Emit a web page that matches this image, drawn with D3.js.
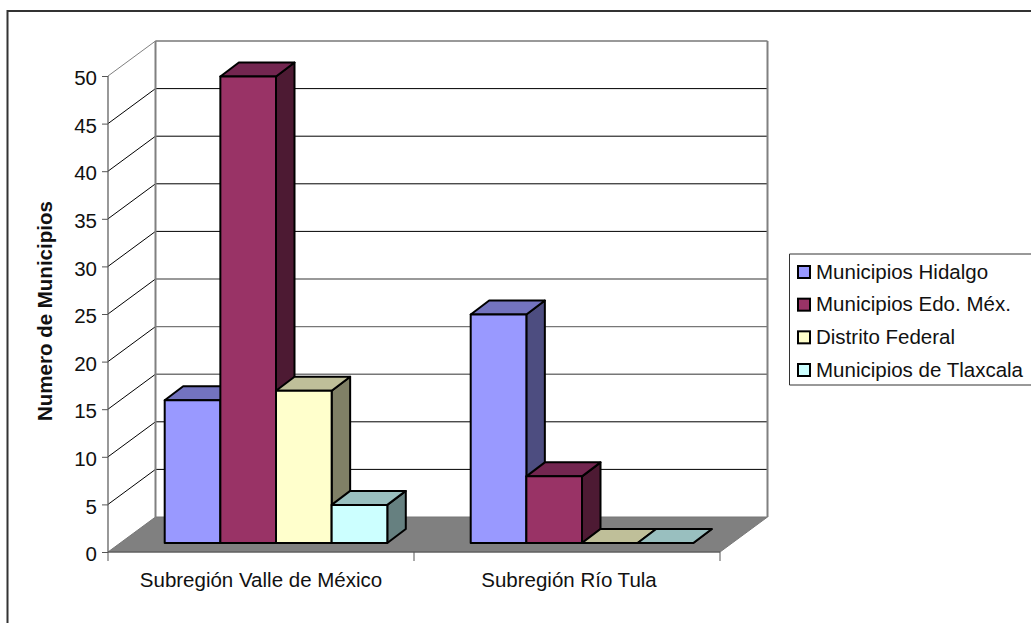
<!DOCTYPE html>
<html><head><meta charset="utf-8">
<script src="https://cdn.jsdelivr.net/npm/d3@7"></script>
<style>html,body{margin:0;padding:0;background:#fff;overflow:hidden}svg{display:block}text{font-family:"Liberation Sans",Arial,sans-serif;fill:#111}</style>
</head><body><svg id="c" width="1031" height="623"></svg>
<script>
const categories = ["Subregión Valle de México","Subregión Río Tula"];
const seriesNames = ["Municipios Hidalgo","Municipios Edo. Méx.","Distrito Federal","Municipios de Tlaxcala"];
const hidalgo = [15,24];
const edoMex = [49,7];
const distrito = [16,0];
const tlaxcala = [4,0];
const seriesValues = [hidalgo,edoMex,distrito,tlaxcala];
const yTicks = [0,5,10,15,20,25,30,35,40,45,50];
const greyGrid = [15,20,25,50];
const frontColors = ["#9999ff","#993366","#ffffcc","#ccffff"];
const topColors = ["#7373bf","#732650","#bfbf99","#99bfbf"];
const sideColors = ["#4d4d80","#4d1a33","#808066","#668080"];

const svg = d3.select("#c");
const x = d3.scaleBand().domain(categories).range([108,720]);
const y = d3.scaleLinear().domain([0,50]).range([552,76]);
const depthX = 47.5, depthY = -35;
const barW = 55.65;
const s = d3.scaleBand().domain(seriesNames).range([0,4*barW]);
const barInset = 56.7, lift = 9, bdx = 18.5, bdy = -14;
const pts = a => a.map(p=>p.join(",")).join(" ");
const FS = 20.5;

// frame, open towards the right and bottom edges as in the reference
svg.append("path").attr("d","M7.5,623V11H1031").attr("fill","none").attr("stroke","#333").attr("stroke-width",2);

// floor
svg.append("polygon").attr("points",pts([[x.range()[0],y(0)],[x.range()[1],y(0)],[x.range()[1]+depthX,y(0)+depthY],[x.range()[0]+depthX,y(0)+depthY]]))
  .attr("fill","#808080").attr("stroke","#777").attr("stroke-width",1);

// grid on walls
yTicks.filter(d=>d>0).forEach(d=>{
  svg.append("line").attr("x1",x.range()[0]).attr("x2",x.range()[0]+depthX).attr("y1",y(d)).attr("y2",y(d)+depthY)
    .attr("stroke",d===50?"#808080":"#000").attr("stroke-width",1);
  svg.append("line").attr("x1",x.range()[0]+depthX).attr("x2",x.range()[1]+depthX).attr("y1",y(d)+depthY).attr("y2",y(d)+depthY)
    .attr("stroke",greyGrid.includes(d)?"#777":"#000").attr("stroke-width",greyGrid.includes(d)?1.4:1);
});
// wall edges
svg.append("path").attr("d",`M${x.range()[0]+depthX},${y(0)+depthY}V${y(50)+depthY}M${x.range()[1]+depthX},${y(0)+depthY}V${y(50)+depthY}`)
  .attr("fill","none").attr("stroke","#808080").attr("stroke-width",2);

// axes
svg.append("path").attr("d",`M${x.range()[0]},${y(50)}V${y(0)}H${x.range()[1]}`).attr("fill","none").attr("stroke","#555").attr("stroke-width",1.2);
const yAxis = svg.append("g").attr("transform",`translate(${x.range()[0]},0)`).call(d3.axisLeft(y).tickValues(yTicks).tickSize(6).tickPadding(5));
yAxis.select(".domain").remove();
yAxis.selectAll("line").attr("stroke","#555");
yAxis.selectAll("text").attr("font-size",FS).attr("dy","0.42em").style("font-family",'"Liberation Sans",Arial,sans-serif').attr("fill","#111");
const xTicks = [...categories.map(c=>x(c)),x.range()[1]];
svg.selectAll(".xt").data(xTicks).join("line").attr("x1",d=>d).attr("x2",d=>d).attr("y1",y(0)).attr("y2",y(0)+9).attr("stroke","#555");
svg.selectAll(".xl").data(categories).join("text").attr("x",(d,i)=>x(d)+x.bandwidth()/2+i*2).attr("y",587)
  .attr("text-anchor","middle").attr("font-size",FS).text(d=>d);

// bars
categories.forEach((c,ci)=>{
  seriesNames.forEach((n,si)=>{
    const v = seriesValues[si][ci];
    const x0 = x(c)+barInset+s(n), x1 = x0+s.bandwidth();
    const y0 = y(0)-lift, yt = y(v)-lift;
    const g = svg.append("g").attr("stroke","#000").attr("stroke-width",2).attr("stroke-linejoin","round");
    g.append("polygon").attr("points",pts([[x1,y0],[x1+bdx,y0+bdy],[x1+bdx,yt+bdy],[x1,yt]])).attr("fill",sideColors[si]);
    g.append("polygon").attr("points",pts([[x0,yt],[x1,yt],[x1+bdx,yt+bdy],[x0+bdx,yt+bdy]])).attr("fill",topColors[si]);
    g.append("rect").attr("x",x0).attr("y",yt).attr("width",x1-x0).attr("height",y0-yt).attr("fill",frontColors[si]);
  });
});

// y title, cut off at its top end as in the reference
svg.append("defs").append("clipPath").attr("id","tc").append("rect").attr("x",20).attr("y",202).attr("width",50).attr("height",300);
svg.append("g").attr("clip-path","url(#tc)").append("text").attr("transform","translate(52,421) rotate(-90)")
  .attr("font-size",FS).attr("font-weight","bold").text("Numero de Municipios");

// legend
svg.append("path").attr("d","M1031,254H789.5V385H1031").attr("fill","#fff").attr("stroke","#333").attr("stroke-width",1);
const ly = d3.scalePoint().domain(seriesNames).range([272,370]);
seriesNames.forEach((n,i)=>{
  svg.append("rect").attr("x",798).attr("y",ly(n)-6).attr("width",12).attr("height",12).attr("fill",frontColors[i]).attr("stroke","#000").attr("stroke-width",2);
  svg.append("text").attr("x",816).attr("y",ly(n)+6.5).attr("font-size",FS).text(n);
});
</script></body></html>
